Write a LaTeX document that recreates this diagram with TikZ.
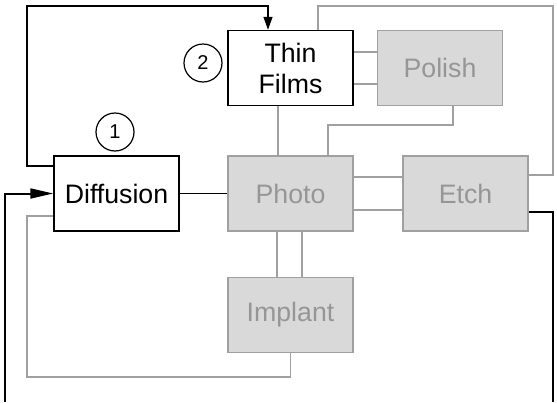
\documentclass[tikz,border=0pt]{standalone}
\usepackage{fontspec}
\setmainfont{Liberation Sans}
\usetikzlibrary{arrows.meta,positioning,calc}
\definecolor{FabInk}{HTML}{000000}
\definecolor{FabEdge}{HTML}{A0A0A0}
\definecolor{FabFill}{HTML}{D9D9D9}
\definecolor{FabText}{HTML}{969696}
\definecolor{FabLine}{HTML}{A0A0A0}
\tikzset{
  flow/.style={FabInk,line width=1.5pt},
  link/.style={FabLine,line width=1.5pt},
  stage/.style={draw=FabInk,line width=1.5pt,fill=white,minimum width=125pt,minimum height=75pt,
                inner sep=0pt,text=FabInk,align=center,font=\fontsize{26.7}{31}\selectfont},
  stagedim/.style={stage,draw=FabEdge,fill=FabFill,text=FabText},
  tag/.style={circle,draw=FabInk,line width=1.2pt,minimum size=38pt,inner sep=0pt,
              font=\fontsize{20}{22}\selectfont},
}
\begin{document}
\begin{tikzpicture}[x=1pt,y=-1pt]
  \useasboundingbox (0,0) rectangle (557,402);

  \node[stage] (diff) at (116.5,193.5) {Diffusion};
  \node[stage] (thin) at (290.5,68) {Thin\\Films};
  \node[stagedim] (polish) at (440,68) {Polish};
  \node[stagedim] (photo) at (290.5,193.5) {Photo};
  \node[stagedim] (etch) at (465.5,193.5) {Etch};
  \node[stagedim] (implant) at (290.5,315) {Implant};

  \node[tag] (one) at (115,132) {1};
  \node[tag] (two) at (203,63) {2};

  % gray links between the dim stages
  \draw[link] ([xshift=-12.5pt]thin.south) -- ([xshift=-12.5pt]photo.north);
  \draw[link] ([yshift=16pt]thin.east) -- ([yshift=16pt]polish.west);
  \draw[link] ([yshift=-16pt]thin.east) -- ([yshift=-16pt]polish.west);
  \draw[link] ([xshift=13pt]polish.south) |- (328,125) -- ([xshift=37.5pt]photo.north);
  \draw[link] ([xshift=27.5pt]thin.north) |- (553,6) |- ([yshift=18.5pt]etch.east);
  \draw[link] ([yshift=16.5pt]photo.east) -- ([yshift=16.5pt]etch.west);
  \draw[link] ([yshift=-16.5pt]photo.east) -- ([yshift=-16.5pt]etch.west);
  \draw[link] ([xshift=-13.5pt]photo.south) -- ([xshift=-13.5pt]implant.north);
  \draw[link] ([xshift=11.5pt]photo.south) -- ([xshift=11.5pt]implant.north);
  \draw[link] ([yshift=-22.5pt]diff.west) -| (27,377) -| (implant.south);

  % black flow
  \draw[flow] (diff.east) -- (photo.west);
  \draw[flow,-{Triangle[length=13pt,width=9pt]}] ([yshift=27.5pt]diff.west) -| (27,6)
    -| ([xshift=-22.5pt]thin.north);
  \draw[flow,line width=2pt,-{Triangle[length=23pt,width=10pt]}] (5,402) |- (diff.west);
  \draw[flow] ([yshift=-18.5pt]etch.east) -| (553,402);
\end{tikzpicture}
\end{document}
